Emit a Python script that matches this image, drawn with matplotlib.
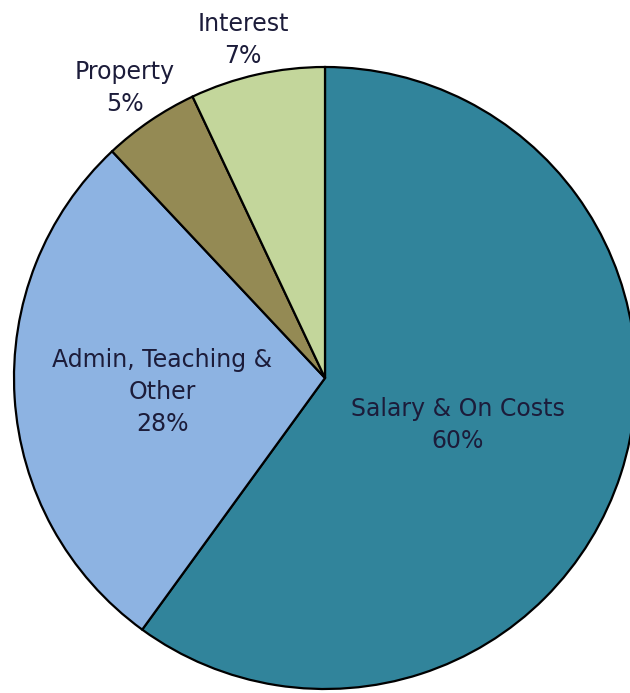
import matplotlib.pyplot as plt

categories = ['Salary & On Costs', 'Admin, Teaching &\nOther', 'Property', 'Interest']
shares = [60, 28, 5, 7]
colors = ['#31849b', '#8db3e2', '#948a54', '#c3d69b']

# label anchor points in pixel coords (x, y from top)
label_pos = [(458, 425), (162, 392), (125, 88), (243, 40)]

fig = plt.figure(figsize=(6.3, 6.93), dpi=100)
ax = fig.add_axes([0, 0, 1, 1])

ax.pie(shares, colors=colors, startangle=90, counterclock=False,
       center=(325, 693 - 378), radius=311,
       wedgeprops=dict(edgecolor='black', linewidth=1.6), frame=True)
ax.set_xlim(0, 630)
ax.set_ylim(0, 693)
ax.set_aspect('equal')
ax.axis('off')

for name, val, (px, py) in zip(categories, shares, label_pos):
    ax.text(px, 693 - py, f'{name}\n{val}%', ha='center', va='center',
            fontsize=17, color='#1c1c3a', linespacing=1.4)

fig.savefig('out.png', dpi=100)
